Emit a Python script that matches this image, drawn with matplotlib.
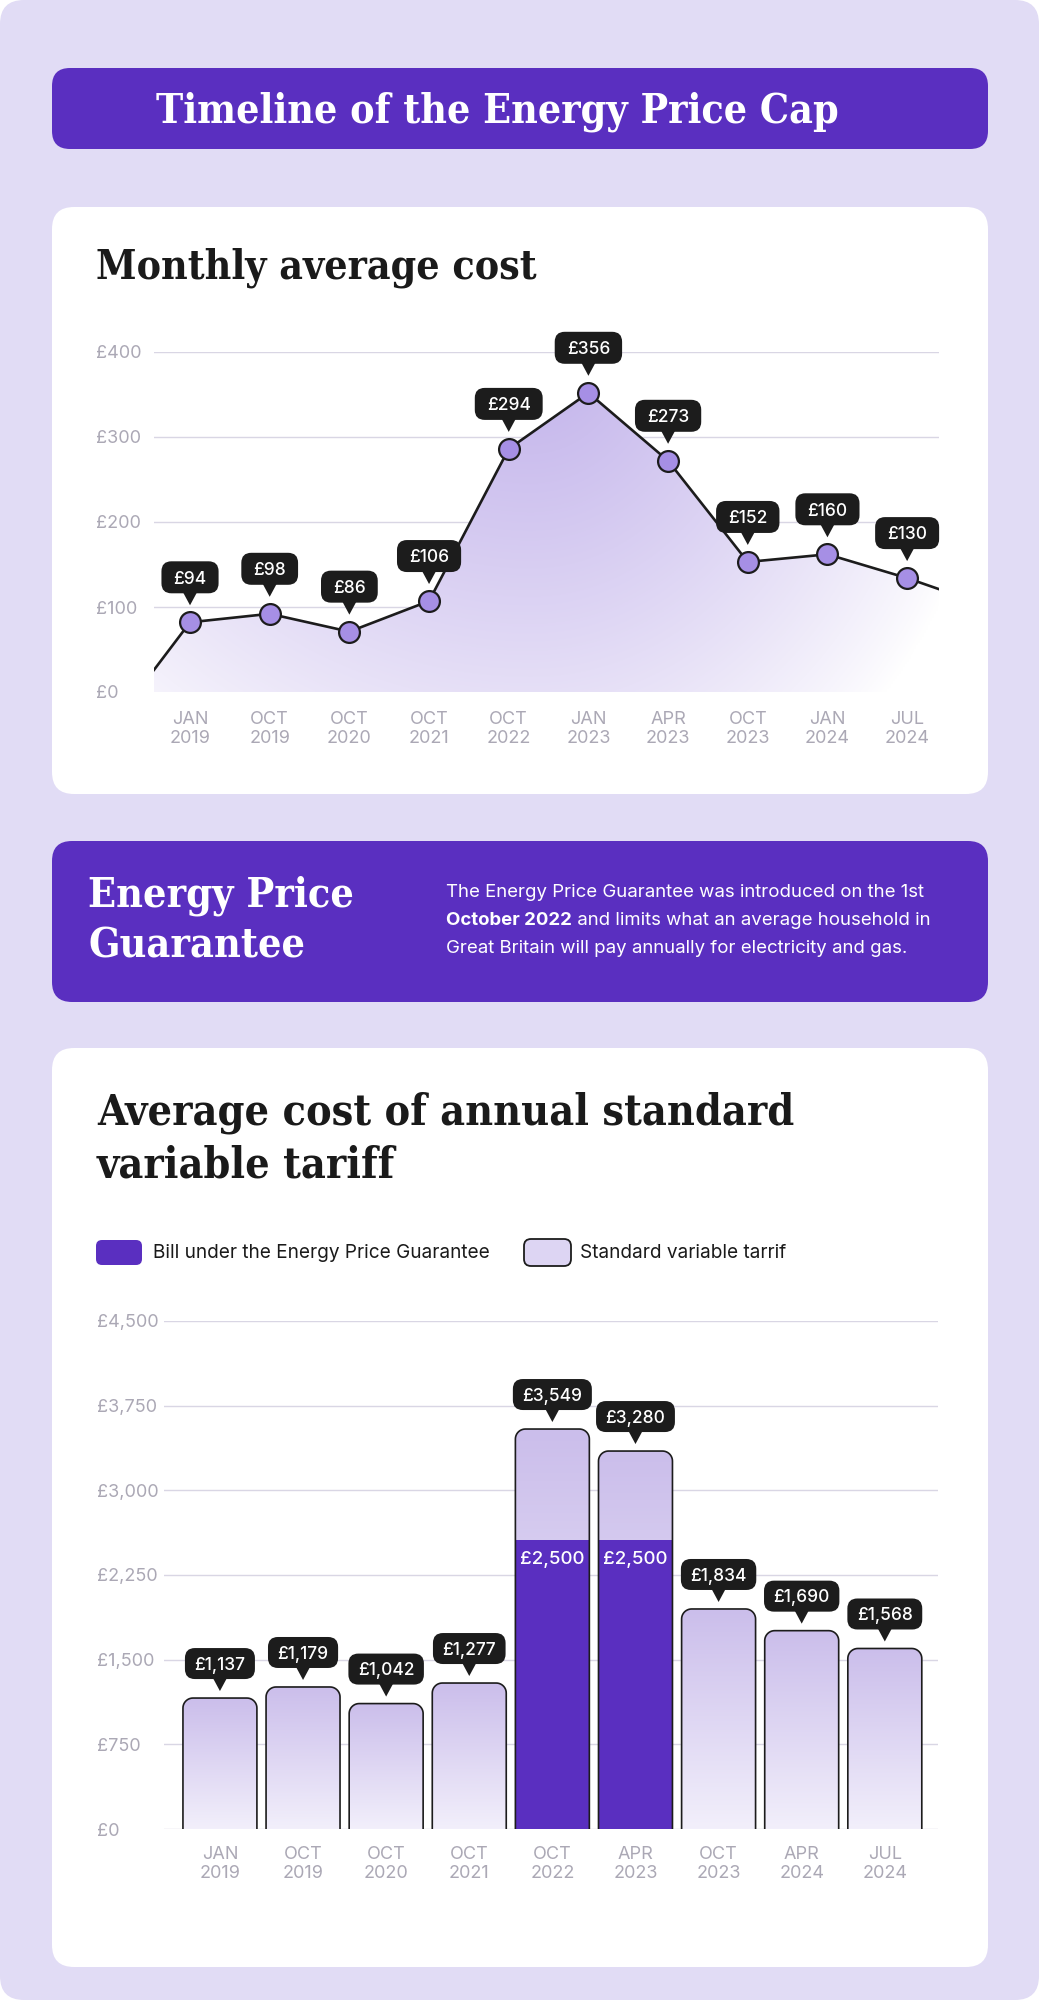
import numpy as np
import matplotlib
matplotlib.use('Agg')
import matplotlib.pyplot as plt
from matplotlib.patches import FancyBboxPatch, Polygon
from matplotlib.colors import to_rgb

W, H = 1039, 2000

# ---- data ----
monthly_dates = ['JAN\n2019', 'OCT\n2019', 'OCT\n2020', 'OCT\n2021', 'OCT\n2022',
                 'JAN\n2023', 'APR\n2023', 'OCT\n2023', 'JAN\n2024', 'JUL\n2024']
monthly_cost = [82, 92, 71, 107, 286, 352, 272, 153, 162, 134]      # where the dots sit
monthly_labels = ['£94', '£98', '£86', '£106', '£294', '£356', '£273', '£152', '£160', '£130']
monthly_edges = [26, 121]   # line value at the left / right edge of the plot
monthly_ticks = [0, 100, 200, 300, 400]

annual_dates = ['JAN\n2019', 'OCT\n2019', 'OCT\n2020', 'OCT\n2021', 'OCT\n2022',
                'APR\n2023', 'OCT\n2023', 'APR\n2024', 'JUL\n2024']
svt_cost = [1160, 1258, 1111, 1293, 3543, 3348, 1949, 1757, 1599]   # bar heights as drawn
svt_labels = ['£1,137', '£1,179', '£1,042', '£1,277', '£3,549', '£3,280', '£1,834', '£1,690', '£1,568']
epg_cost = [0, 0, 0, 0, 2560, 2560, 0, 0, 0]
epg_labels = ['', '', '', '', '£2,500', '£2,500', '', '', '']
annual_ticks = [0, 750, 1500, 2250, 3000, 3750, 4500]

PURPLE = '#5A2FC0'
LAVENDER = '#E1DCF5'
DARK = '#1C1C1C'
GRID = '#D9D6E4'
TICK = '#ABA8B5'
SERIF = ['DejaVu Serif']

plt.rcParams['font.family'] = ['Inter', 'DejaVu Sans']

fig = plt.figure(figsize=(W / 100, H / 100), dpi=100)
fig.patch.set_facecolor('white')
renderer = fig.canvas.get_renderer()


def canvas_axes(z):
    ax = fig.add_axes([0, 0, 1, 1], zorder=z)
    ax.set_xlim(0, W)
    ax.set_ylim(H, 0)
    ax.axis('off')
    return ax


def px_axes(x0, y0, x1, y1):
    return fig.add_axes([x0 / W, 1 - y1 / H, (x1 - x0) / W, (y1 - y0) / H])


def rbox(ax, x0, y0, x1, y1, r, **kw):
    p = FancyBboxPatch((x0 + r, y0 + r), x1 - x0 - 2 * r, y1 - y0 - 2 * r,
                       boxstyle='round,pad=%g' % r, **kw)
    ax.add_patch(p)
    return p


def fit(txt, width):
    bb = txt.get_window_extent(renderer)
    txt.set_fontsize(txt.get_fontsize() * width / bb.width)
    return txt.get_fontsize()


def heading(x, y, s, color, fs, **kw):
    return bg.text(x, y, s, va='baseline', color=color, family=SERIF, fontweight='bold',
                   fontstretch='condensed', fontsize=fs, **kw)


def to_px(ax, x, y):
    X, Y = ax.transData.transform((x, y))
    return X, H - Y


bg = canvas_axes(0)

# background + cards
rbox(bg, 0, 0, W, H, 24, fc=LAVENDER, ec='none')
rbox(bg, 52, 68, 988, 149, 18, fc=PURPLE, ec='none')
rbox(bg, 52, 207, 988, 794, 22, fc='white', ec='none')
rbox(bg, 52, 841, 988, 1002, 20, fc=PURPLE, ec='none')
rbox(bg, 52, 1048, 988, 1967, 22, fc='white', ec='none')

# headings
t = heading(497, 123, 'Timeline of the Energy Price Cap', 'white', 28, ha='center')
fit(t, 683)
t = heading(96, 279, 'Monthly average cost', '#1A1A1A', 28)
fit(t, 441)
t = heading(88, 907, 'Energy Price', 'white', 25)
fs = fit(t, 266)
heading(88, 958, 'Guarantee', 'white', fs)
t = heading(97, 1125, 'Average cost of annual standard', '#1A1A1A', 30)
fs = fit(t, 694)
heading(97, 1177, 'variable tariff', '#1A1A1A', fs)

# paragraph in the guarantee banner
t = bg.text(446, 897, 'The Energy Price Guarantee was introduced on the 1st',
            va='baseline', color='white', fontsize=12.5)
fs = fit(t, 479)
b = bg.text(446, 925, 'October 2022', va='baseline', color='white', fontsize=fs, fontweight='bold')
bw = b.get_window_extent(renderer).width
bg.text(446 + bw, 925, ' and limits what an average household in', va='baseline',
        color='white', fontsize=fs)
bg.text(446, 953, 'Great Britain will pay annually for electricity and gas.', va='baseline',
        color='white', fontsize=fs)

# legend
rbox(bg, 96, 1240, 142, 1265, 6, fc=PURPLE, ec='none')
rbox(bg, 524, 1239, 571, 1266, 7, fc='#DDD5F3', ec=DARK, lw=1.3)
t = bg.text(153, 1258, 'Bill under the Energy Price Guarantee', va='baseline',
            color='#1A1A1A', fontsize=13)
fs = fit(t, 336)
bg.text(580, 1258, 'Standard variable tarrif', va='baseline', color='#1A1A1A', fontsize=fs)


def style_axes(ax, yticks, xlabels, ypad, xpad):
    ax.patch.set_alpha(0)
    for s in ax.spines.values():
        s.set_visible(False)
    ax.set_yticks(yticks)
    ax.set_yticklabels(['£{:,}'.format(v) for v in yticks])
    ax.set_xticks(range(len(xlabels)))
    ax.set_xticklabels(xlabels, linespacing=1.15)
    ax.tick_params(length=0, labelsize=13, labelcolor=TICK)
    ax.tick_params(axis='y', pad=ypad)
    ax.tick_params(axis='x', pad=xpad)
    for lab in ax.get_yticklabels():
        lab.set_ha('left')
    ax.grid(axis='y', color=GRID, lw=1)
    ax.set_axisbelow(True)


# ---- chart 1: monthly average cost ----
ax1 = px_axes(154, 352, 939, 692)
x_lo, x_hi = -0.452, 9.40
xs = np.arange(len(monthly_cost))
line_x = np.concatenate([[x_lo], xs, [x_hi]])
line_y = np.concatenate([[monthly_edges[0]], monthly_cost, [monthly_edges[1]]])

# soft glow under the line: strongest near the peak, fading to white at the bottom corners
u, v = np.meshgrid(np.linspace(0, 1, 400), np.linspace(0, 1, 200))
rad_x = np.where(u < 0.48, 0.8, 0.6)
g = np.clip(1 - np.sqrt(((u - 0.48) / rad_x) ** 2 + ((v - 1.05) / 1.6) ** 2), 0, 1) ** 0.85
top_col = np.array(to_rgb('#C0B0EA'))
img = 1 - g[..., None] * (1 - top_col)
area = Polygon(np.column_stack([np.concatenate([line_x, [x_hi, x_lo]]),
                                np.concatenate([line_y, [0, 0]])]),
               closed=True, fc='none', ec='none')
ax1.add_patch(area)
im = ax1.imshow(img, extent=(x_lo, x_hi, 0, 400), origin='lower', aspect='auto', zorder=1)
im.set_clip_path(area)

ax1.plot(line_x, line_y, color=DARK, lw=1.9, zorder=3)
ax1.plot(xs, monthly_cost, 'o', ms=15, mfc='#A68FE5', mec=DARK, mew=1.6, zorder=4, clip_on=False)
ax1.set_xlim(x_lo, x_hi)
ax1.set_ylim(0, 400)
style_axes(ax1, monthly_ticks, monthly_dates, 41.8, 13.5)

# ---- chart 2: annual standard variable tariff ----
ax2 = px_axes(164, 1321, 938, 1829)
b_lo, b_hi = -0.673, 8.64
bars = ax2.bar(range(len(svt_cost)), svt_cost, width=0.89, color='none', ec='none')
epg = ax2.bar(range(len(epg_cost)), epg_cost, width=0.89, color=PURPLE, ec='none', zorder=3)
ax2.set_xlim(b_lo, b_hi)
ax2.set_ylim(0, 4500)

rx = 10 / (774 / (b_hi - b_lo))
ry = 10 / (508 / 4500)
bar_grad = np.linspace(to_rgb('#F2EFFB'), to_rgb('#CBBEEB'), 100)[:, None, :]


def rounded_top(x0, x1, top):
    th = np.linspace(np.pi, np.pi / 2, 12)
    left = np.column_stack([x0 + rx + rx * np.cos(th), top - ry + ry * np.sin(th)])
    th = np.linspace(np.pi / 2, 0, 12)
    right = np.column_stack([x1 - rx + rx * np.cos(th), top - ry + ry * np.sin(th)])
    return np.vstack([[x0, 0], left, right, [x1, 0]])


for rect, low in zip(bars, epg):
    x0 = rect.get_x()
    x1 = x0 + rect.get_width()
    top = rect.get_height()
    pts = rounded_top(x0, x1, top)
    clip = Polygon(pts, closed=True, fc='none', ec='none')
    ax2.add_patch(clip)
    im = ax2.imshow(bar_grad, extent=(x0, x1, 0, top), origin='lower', aspect='auto', zorder=2)
    im.set_clip_path(clip)
    low.set_clip_path(clip)
    ax2.add_patch(Polygon(pts, closed=False, fc='none', ec=DARK, lw=1.2, zorder=4))

ax2.set_xlim(b_lo, b_hi)
ax2.set_ylim(0, 4500)
style_axes(ax2, annual_ticks, annual_dates, 48.2, 12.5)

# ---- overlay: callouts ----
ov = canvas_axes(10)


def tooltip(cx, tip_y, label, box_h, fs, pad):
    ov.add_patch(Polygon([[cx - 7, tip_y - 13], [cx + 7, tip_y - 13], [cx, tip_y]],
                         closed=True, fc=DARK, ec='none', zorder=5))
    mid = tip_y - 12 - box_h / 2
    cap = 0.727 * fs * 100 / 72
    t = ov.text(cx, mid + cap / 2, label, ha='center', va='baseline', color='white',
                fontsize=fs, fontweight='medium', zorder=7)
    w = t.get_window_extent(renderer).width + pad
    rbox(ov, cx - w / 2, mid - box_h / 2, cx + w / 2, mid + box_h / 2, 10,
         fc=DARK, ec='none', zorder=6)


for i, lab in enumerate(monthly_labels):
    px, py = to_px(ax1, i, monthly_cost[i])
    tooltip(px, py - 17, lab, 32, 12.5, 24)

for i, lab in enumerate(svt_labels):
    px, py = to_px(ax2, i, svt_cost[i])
    tooltip(px, py - 7, lab, 31, 12.5, 19)
    if epg_labels[i]:
        ex, ey = to_px(ax2, i, epg_cost[i])
        cap = 0.727 * 13.5 * 100 / 72
        ov.text(ex, ey + 17 + cap / 2, epg_labels[i], ha='center', va='baseline',
                color='white', fontsize=13.5, fontweight='medium')

fig.savefig('out.png', dpi=100)
